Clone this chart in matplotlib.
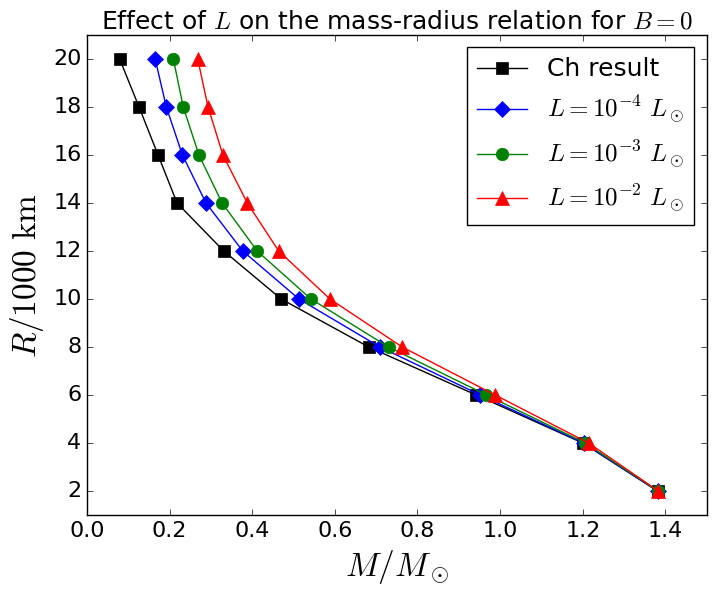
import matplotlib
matplotlib.use("Agg")
import matplotlib.pyplot as plt

# radius in units of 1000 km
radius = [20, 18, 16, 14, 12, 10, 8, 6, 4, 2]

# masses in solar units
mass_ch = [0.079, 0.126, 0.172, 0.218, 0.331, 0.470, 0.682, 0.942, 1.200, 1.381]
mass_l4 = [0.165, 0.192, 0.231, 0.288, 0.377, 0.513, 0.709, 0.952, 1.202, 1.381]
mass_l3 = [0.209, 0.233, 0.271, 0.327, 0.412, 0.542, 0.730, 0.967, 1.206, 1.382]
mass_l2 = [0.268, 0.293, 0.329, 0.388, 0.464, 0.588, 0.763, 0.988, 1.214, 1.383]

labels = [
    "Ch result",
    r"$L=10^{-4}\ L_\odot$",
    r"$L=10^{-3}\ L_\odot$",
    r"$L=10^{-2}\ L_\odot$",
]

plt.style.use("classic")
plt.rcParams["mathtext.fontset"] = "cm"

fig = plt.figure(figsize=(7.16, 5.99), dpi=100, facecolor="white")
ax = fig.add_axes([0.1215, 0.1402, 0.8655, 0.8014])

ax.plot(mass_ch, radius, "k-", marker="s", ms=8, mec="k", label=labels[0])
ax.plot(mass_l4, radius, "b-", marker="D", ms=8, mec="b", label=labels[1])
ax.plot(mass_l3, radius, "g-", marker="o", ms=9, mec="g", label=labels[2])
ax.plot(mass_l2, radius, "r-", marker="^", ms=10, mec="r", label=labels[3])

ax.set_xlim(0, 1.5)
ax.set_ylim(1, 21)
ax.set_xticks([0.0, 0.2, 0.4, 0.6, 0.8, 1.0, 1.2, 1.4])
ax.set_yticks(range(2, 21, 2))
ax.tick_params(labelsize=16)

ax.set_xlabel(r"$M/M_\odot$", fontsize=24)
ax.set_ylabel(r"$R/1000\ \rm{km}$", fontsize=24)
ax.set_title(r"Effect of $L$ on the mass-radius relation for $B=0$", fontsize=18)

ax.legend(loc="upper right", numpoints=1, fontsize=18)

fig.savefig("out.png", dpi=100, facecolor="white")
